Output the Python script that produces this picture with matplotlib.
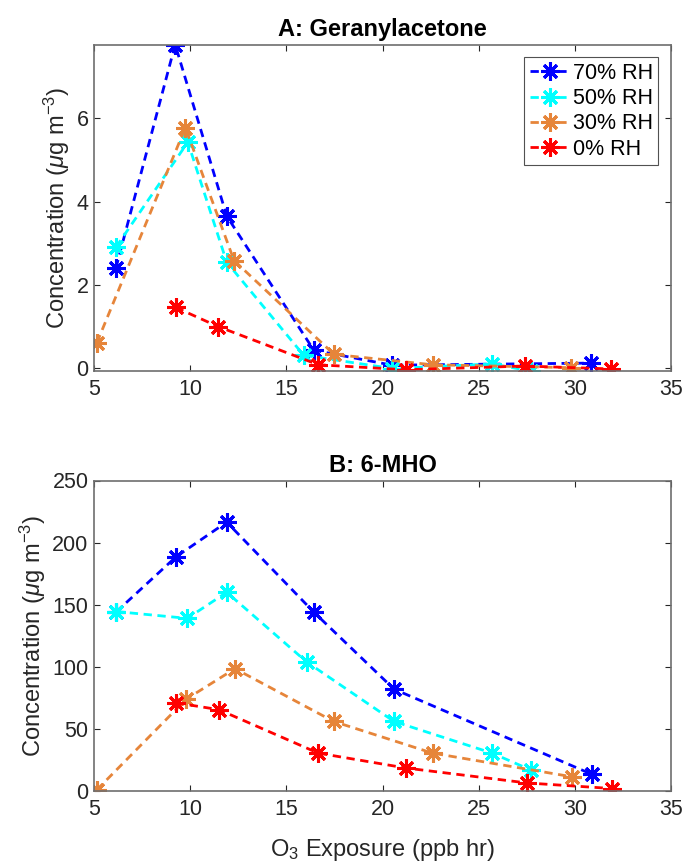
import matplotlib
matplotlib.use("Agg")
import matplotlib.pyplot as plt

plt.rcParams['font.family'] = ['Liberation Sans', 'DejaVu Sans']
plt.rcParams['mathtext.fontset'] = 'custom'
plt.rcParams['mathtext.rm'] = 'Liberation Sans'
plt.rcParams['mathtext.it'] = 'Liberation Sans:italic'

labels = ['70% RH', '50% RH', '30% RH', '0% RH']
colors = ['#0000FF', '#00FFFF', '#E6853A', '#FF0000']

# Panel A: Geranylacetone
a_x70 = [6.14, 9.22, 11.9, 16.43, 20.5, 30.85]
a_y70 = [2.4, 7.78, 3.65, 0.42, 0.06, 0.11]
a_x50 = [6.14, 9.88, 11.9, 15.9, 20.5, 25.67, 27.73]
a_y50 = [2.9, 5.43, 2.54, 0.3, -0.02, 0.09, -0.08]
a_x30 = [5.15, 9.75, 12.28, 17.48, 22.6, 29.8]
a_y30 = [0.6, 5.78, 2.58, 0.32, 0.07, 0.0]
a_x0 = [9.25, 11.45, 16.67, 21.2, 27.4, 31.9]
a_y0 = [1.45, 0.99, 0.07, -0.05, 0.04, -0.03]

# Panel B: 6-MHO
b_x70 = [6.14, 9.26, 11.9, 16.43, 20.6, 30.88]
b_y70 = [144.0, 188.5, 216.5, 144.0, 82.0, 13.5]
b_x50 = [6.14, 9.85, 11.9, 16.05, 20.6, 25.7, 27.7]
b_y50 = [144.5, 139.0, 160.0, 104.0, 56.0, 30.5, 17.0]
b_x30 = [5.15, 9.8, 12.33, 17.46, 22.6, 29.83]
b_y30 = [1.0, 74.0, 98.5, 56.0, 30.5, 11.5]
b_x0 = [9.26, 11.49, 16.66, 21.22, 27.5, 31.92]
b_y0 = [71.0, 65.5, 30.5, 18.5, 6.5, 2.0]

a_series = [(a_x70, a_y70), (a_x50, a_y50), (a_x30, a_y30), (a_x0, a_y0)]
b_series = [(b_x70, b_y70), (b_x50, b_y50), (b_x30, b_y30), (b_x0, b_y0)]

xticks = [5, 10, 15, 20, 25, 30, 35]
a_yticks = [0, 2, 4, 6]
b_yticks = [0, 50, 100, 150, 200, 250]

W, H = 686, 868
fig = plt.figure(figsize=(W / 100, H / 100), dpi=100)

def frac(l, t, r, b):
    return [l / W, 1 - b / H, (r - l) / W, (b - t) / H]

axA = fig.add_axes(frac(94, 44.5, 671, 371))
axB = fig.add_axes(frac(94, 480.5, 671, 791))

marker = (8, 2, 0)
edge = '#262626'

def style(ax):
    ax.set_xlim(5, 35)
    ax.set_xticks(xticks)
    ax.tick_params(direction='in', top=True, right=True, length=4, width=0.8,
                   labelsize=15.5, colors=edge, pad=4)
    ax.tick_params(axis='x', pad=6)
    for s in ax.spines.values():
        s.set_color('#6e6e6e')
        s.set_linewidth(1.2)
    ax.set_ylabel('Concentration ($\\mu$g m$^{-3}$)', fontsize=17, color=edge, labelpad=3)

for ax, series in ((axA, a_series), (axB, b_series)):
    for (xs, ys), lab, c in zip(series, labels, colors):
        ax.plot(xs, ys, linestyle=(0, (3.0, 2.0)), color=c, linewidth=2.0,
                marker=marker, markersize=13, markeredgewidth=2.2,
                markeredgecolor=c, markerfacecolor=c, label=lab)
    style(ax)

all_a = a_y70 + a_y50 + a_y30 + a_y0
axA.set_ylim(min(all_a), max(all_a))
axA.set_yticks(a_yticks)
axA.set_title('A: Geranylacetone', fontsize=17, fontweight='bold', color='black', pad=6)
leg = axA.legend(loc='upper right', fontsize=15.5, frameon=True, fancybox=False,
                 edgecolor='#262626', handlelength=1.9, handletextpad=0.1,
                 borderpad=0.25, labelspacing=0.2, borderaxespad=0.6)
leg.get_frame().set_linewidth(0.8)

axB.set_ylim(0, 250)
axB.set_yticks(b_yticks)
axB.set_title('B: 6-MHO', fontsize=17, fontweight='bold', color='black', pad=6)
axB.set_xlabel('O$_3$ Exposure (ppb hr)', fontsize=17, color=edge, labelpad=12)

fig.savefig('out.png', dpi=100)
